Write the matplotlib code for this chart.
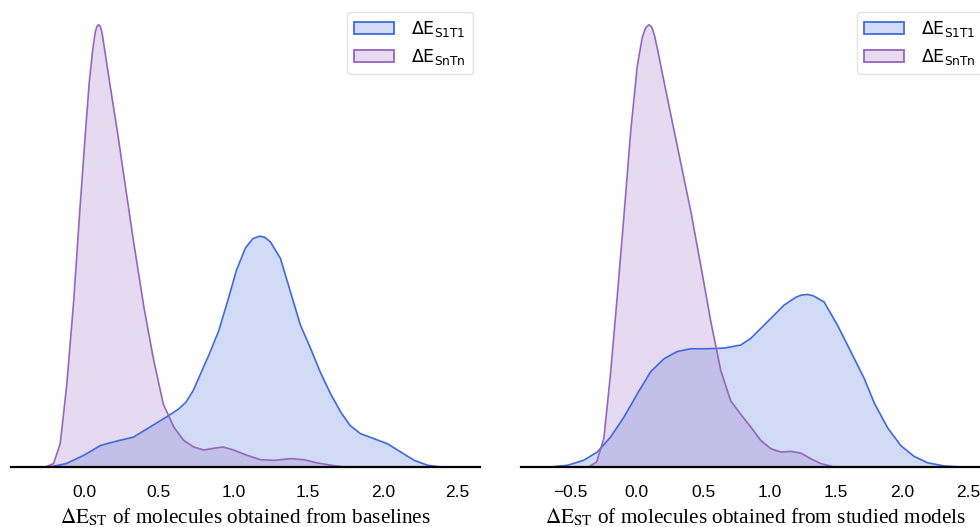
import matplotlib
matplotlib.use("Agg")
import matplotlib.pyplot as plt
from matplotlib.patches import Patch
from matplotlib.colors import to_rgba

# KDE curves (x = energy gap in eV, y = density)
base_s1t1_x = [-0.23, -0.12, 0.0, 0.11, 0.22, 0.33, 0.44, 0.55, 0.63, 0.68, 0.73, 0.78, 0.84,
               0.90, 0.96, 1.02, 1.08, 1.13, 1.175, 1.21, 1.247, 1.314, 1.381, 1.448,
               1.515, 1.58, 1.65, 1.72, 1.78, 1.85, 1.94, 2.03, 2.12, 2.21, 2.30, 2.39]
base_s1t1_y = [0.0, 0.02, 0.07, 0.127, 0.153, 0.176, 0.235, 0.294, 0.34, 0.38, 0.45, 0.55, 0.67,
               0.80, 0.975, 1.16, 1.29, 1.345, 1.359, 1.352, 1.325, 1.228, 1.031, 0.835,
               0.70, 0.56, 0.43, 0.32, 0.245, 0.196, 0.167, 0.137, 0.088, 0.039, 0.01, 0.0]

base_sntn_x = [-0.26, -0.205, -0.16, -0.116, -0.07, -0.03, 0.007, 0.034, 0.058, 0.074, 0.085,
               0.096, 0.107, 0.119, 0.136, 0.170, 0.226, 0.263, 0.33, 0.40, 0.465, 0.53, 0.60,
               0.666, 0.733, 0.80, 0.867, 0.93, 1.0, 1.09, 1.18, 1.27, 1.38, 1.47, 1.56, 1.67, 1.74]
base_sntn_y = [0.0, 0.02, 0.14, 0.49, 0.98, 1.5, 1.953, 2.266, 2.463, 2.56, 2.592,
               2.604, 2.595, 2.56, 2.463, 2.266, 1.953, 1.73, 1.33, 0.94, 0.63, 0.37, 0.235,
               0.157, 0.118, 0.10, 0.11, 0.118, 0.10, 0.069, 0.043, 0.039, 0.049, 0.043, 0.024,
               0.008, 0.0]

model_s1t1_x = [-0.65, -0.52, -0.40, -0.296, -0.196, -0.095, 0.005, 0.105, 0.206, 0.306, 0.407,
                0.53, 0.658, 0.784, 0.859, 0.985, 1.11, 1.2, 1.24, 1.286, 1.33, 1.37, 1.411,
                1.512, 1.613, 1.713, 1.79, 1.89, 1.99, 2.09, 2.19, 2.316, 2.44]
model_s1t1_y = [0.0, 0.01, 0.039, 0.088, 0.176, 0.294, 0.43, 0.56, 0.637, 0.68, 0.696,
                0.696, 0.70, 0.718, 0.757, 0.855, 0.953, 1.0, 1.012, 1.016, 1.008, 0.99, 0.972,
                0.835, 0.678, 0.522, 0.375, 0.23, 0.125, 0.062, 0.025, 0.006, 0.0]

model_sntn_x = [-0.36, -0.30, -0.246, -0.196, -0.146, -0.095, -0.045, 0.005, 0.043, 0.068, 0.093,
                0.115, 0.135, 0.16, 0.193, 0.256, 0.33, 0.407, 0.48, 0.558, 0.633, 0.708,
                0.784, 0.86, 0.934, 1.01, 1.085, 1.16, 1.236, 1.31, 1.387, 1.487]
model_sntn_y = [0.0, 0.03, 0.17, 0.55, 1.0, 1.48, 1.97, 2.36, 2.53, 2.585, 2.604,
                2.59, 2.54, 2.45, 2.32, 2.08, 1.80, 1.51, 1.20, 0.86, 0.57, 0.39,
                0.31, 0.235, 0.157, 0.108, 0.088, 0.092, 0.082, 0.049, 0.02, 0.0]

labels = [r'$\Delta\mathrm{E}_{\mathrm{S1T1}}$', r'$\Delta\mathrm{E}_{\mathrm{SnTn}}$']
xlabels = ['of molecules obtained from baselines', 'of molecules obtained from studied models']
ticks = [[0.0, 0.5, 1.0, 1.5, 2.0, 2.5], [-0.5, 0.0, 0.5, 1.0, 1.5, 2.0, 2.5]]

blue = '#3f69dd'
purple = '#9467bd'

fig = plt.figure(figsize=(9.8, 5.27), dpi=100)
ax1 = fig.add_axes([11 / 980, 60 / 527, 469 / 980, 462 / 527])
ax2 = fig.add_axes([521 / 980, 60 / 527, 469 / 980, 462 / 527])

panels = [
    (ax1, base_s1t1_x, base_s1t1_y, base_sntn_x, base_sntn_y, (-0.49, 2.65)),
    (ax2, model_s1t1_x, model_s1t1_y, model_sntn_x, model_sntn_y, (-0.87, 2.66)),
]

for i, (ax, bx, by, px, py, xlim) in enumerate(panels):
    ax.fill_between(bx, by, color=blue, alpha=0.24, lw=0)
    ax.plot(bx, by, color=blue, lw=1.2, solid_joinstyle='round')
    ax.fill_between(px, py, color=purple, alpha=0.24, lw=0)
    ax.plot(px, py, color=purple, lw=1.2, solid_joinstyle='round')

    ax.set_xlim(*xlim)
    ax.set_ylim(0, 2.72)
    ax.set_yticks([])
    ax.set_xticks(ticks[i])
    ax.set_xticklabels([f'{t:.1f}'.replace('-', '\u2212') for t in ticks[i]],
                       fontfamily='Liberation Sans', fontsize=12.5)
    ax.tick_params(axis='x', length=0, pad=13)
    for s in ['left', 'right', 'top']:
        ax.spines[s].set_visible(False)
    ax.spines['bottom'].set_linewidth(1.6)
    ax.spines['bottom'].set_color('black')

    ax.set_xlabel(r'$\Delta\mathrm{E}_{\mathrm{ST}}$ ' + xlabels[i], fontfamily='Liberation Serif',
                  math_fontfamily='stix', fontsize=15.3, labelpad=5)

    handles = [Patch(facecolor=to_rgba(blue, 0.24), edgecolor=blue, lw=1.3),
               Patch(facecolor=to_rgba(purple, 0.24), edgecolor=purple, lw=1.3)]
    ax.legend(handles, labels, loc='upper right', fontsize=12.5, frameon=True,
              fancybox=True, framealpha=0.8, edgecolor='#dddddd',
              handlelength=2.3, handletextpad=1.0, labelspacing=0.45, borderaxespad=0.4)

fig.savefig('out.png', dpi=100)
